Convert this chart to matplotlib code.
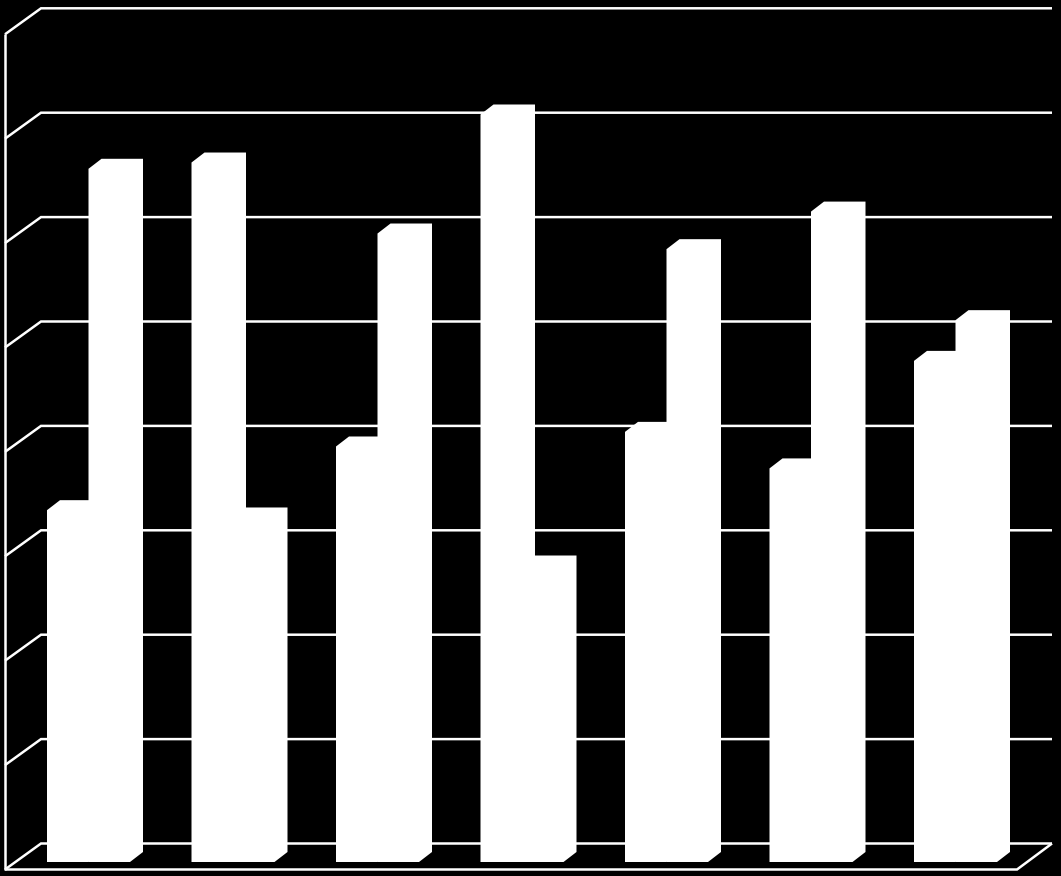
"""
Grafico de barras 3D, blanco sobre negro, sin textos
"""

import numpy as np
import matplotlib
matplotlib.use('Agg')
import matplotlib.pyplot as plt

# datos
grupos = [1, 2, 3, 4, 5, 6, 7]
serie_a = [3.37, 6.70, 3.98, 7.16, 4.12, 3.77, 4.80]
serie_b = [6.64, 3.30, 6.02, 2.84, 5.87, 6.23, 5.19]
niveles = [0, 1, 2, 3, 4, 5, 6, 7, 8]

# escala: pixeles por unidad
PX_Y = 104.4
PX_X = 144.5

# proyeccion, en unidades de los ejes
ancho = 41.5 / PX_X
prof_x = 13 / PX_X
prof_y = 10 / PX_Y
pared_izq = (5 - 88.5) / PX_X
pared_fondo = (41 - 88.5) / PX_X
pared_der = (1052 - 88.5) / PX_X
suelo_der = (1017 - 88.5) / PX_X
y_frente = -7.5 / PX_Y
y_fondo = 18.5 / PX_Y

BLANCO = '#ffffff'
LW = 1.8


def dibujar_paredes(ax):
    for n in niveles:
        ax.plot([pared_izq, pared_fondo, pared_der],
                [n + y_frente, n + y_fondo, n + y_fondo],
                color=BLANCO, lw=LW, zorder=1,
                solid_joinstyle='miter', solid_capstyle='butt')
    ax.plot([pared_izq, pared_izq], [niveles[0] + y_frente, niveles[-1] + y_frente],
            color=BLANCO, lw=LW, zorder=1, solid_capstyle='butt')
    ax.plot([pared_izq, suelo_der, pared_der],
            [y_frente, y_frente, y_fondo],
            color=BLANCO, lw=LW, zorder=1,
            solid_joinstyle='miter', solid_capstyle='butt')


def dibujar_barra(ax, x, valor):
    # silueta de la barra: frente, cara superior y cara lateral juntas
    xs = [x, x, x + prof_x, x + ancho + prof_x, x + ancho + prof_x, x + ancho]
    ys = [0, valor, valor + prof_y, valor + prof_y, prof_y, 0]
    ax.fill(xs, ys, facecolor=BLANCO, edgecolor='none', zorder=2)


def main():
    fig = plt.figure(figsize=(10.61, 8.76), dpi=100, facecolor='black')
    ax = fig.add_axes([0, 0, 1, 1], facecolor='black')
    ax.set_xlim(-88.5 / PX_X, (1061 - 88.5) / PX_X)
    ax.set_ylim(-(876 - 862) / PX_Y, 862 / PX_Y)
    ax.axis('off')

    dibujar_paredes(ax)

    posiciones = np.arange(len(grupos))
    for i, a, b in zip(posiciones, serie_a, serie_b):
        dibujar_barra(ax, i - ancho, a)
        dibujar_barra(ax, i, b)

    fig.savefig('out.png', dpi=100, facecolor='black')
    plt.close(fig)


if __name__ == '__main__':
    main()
